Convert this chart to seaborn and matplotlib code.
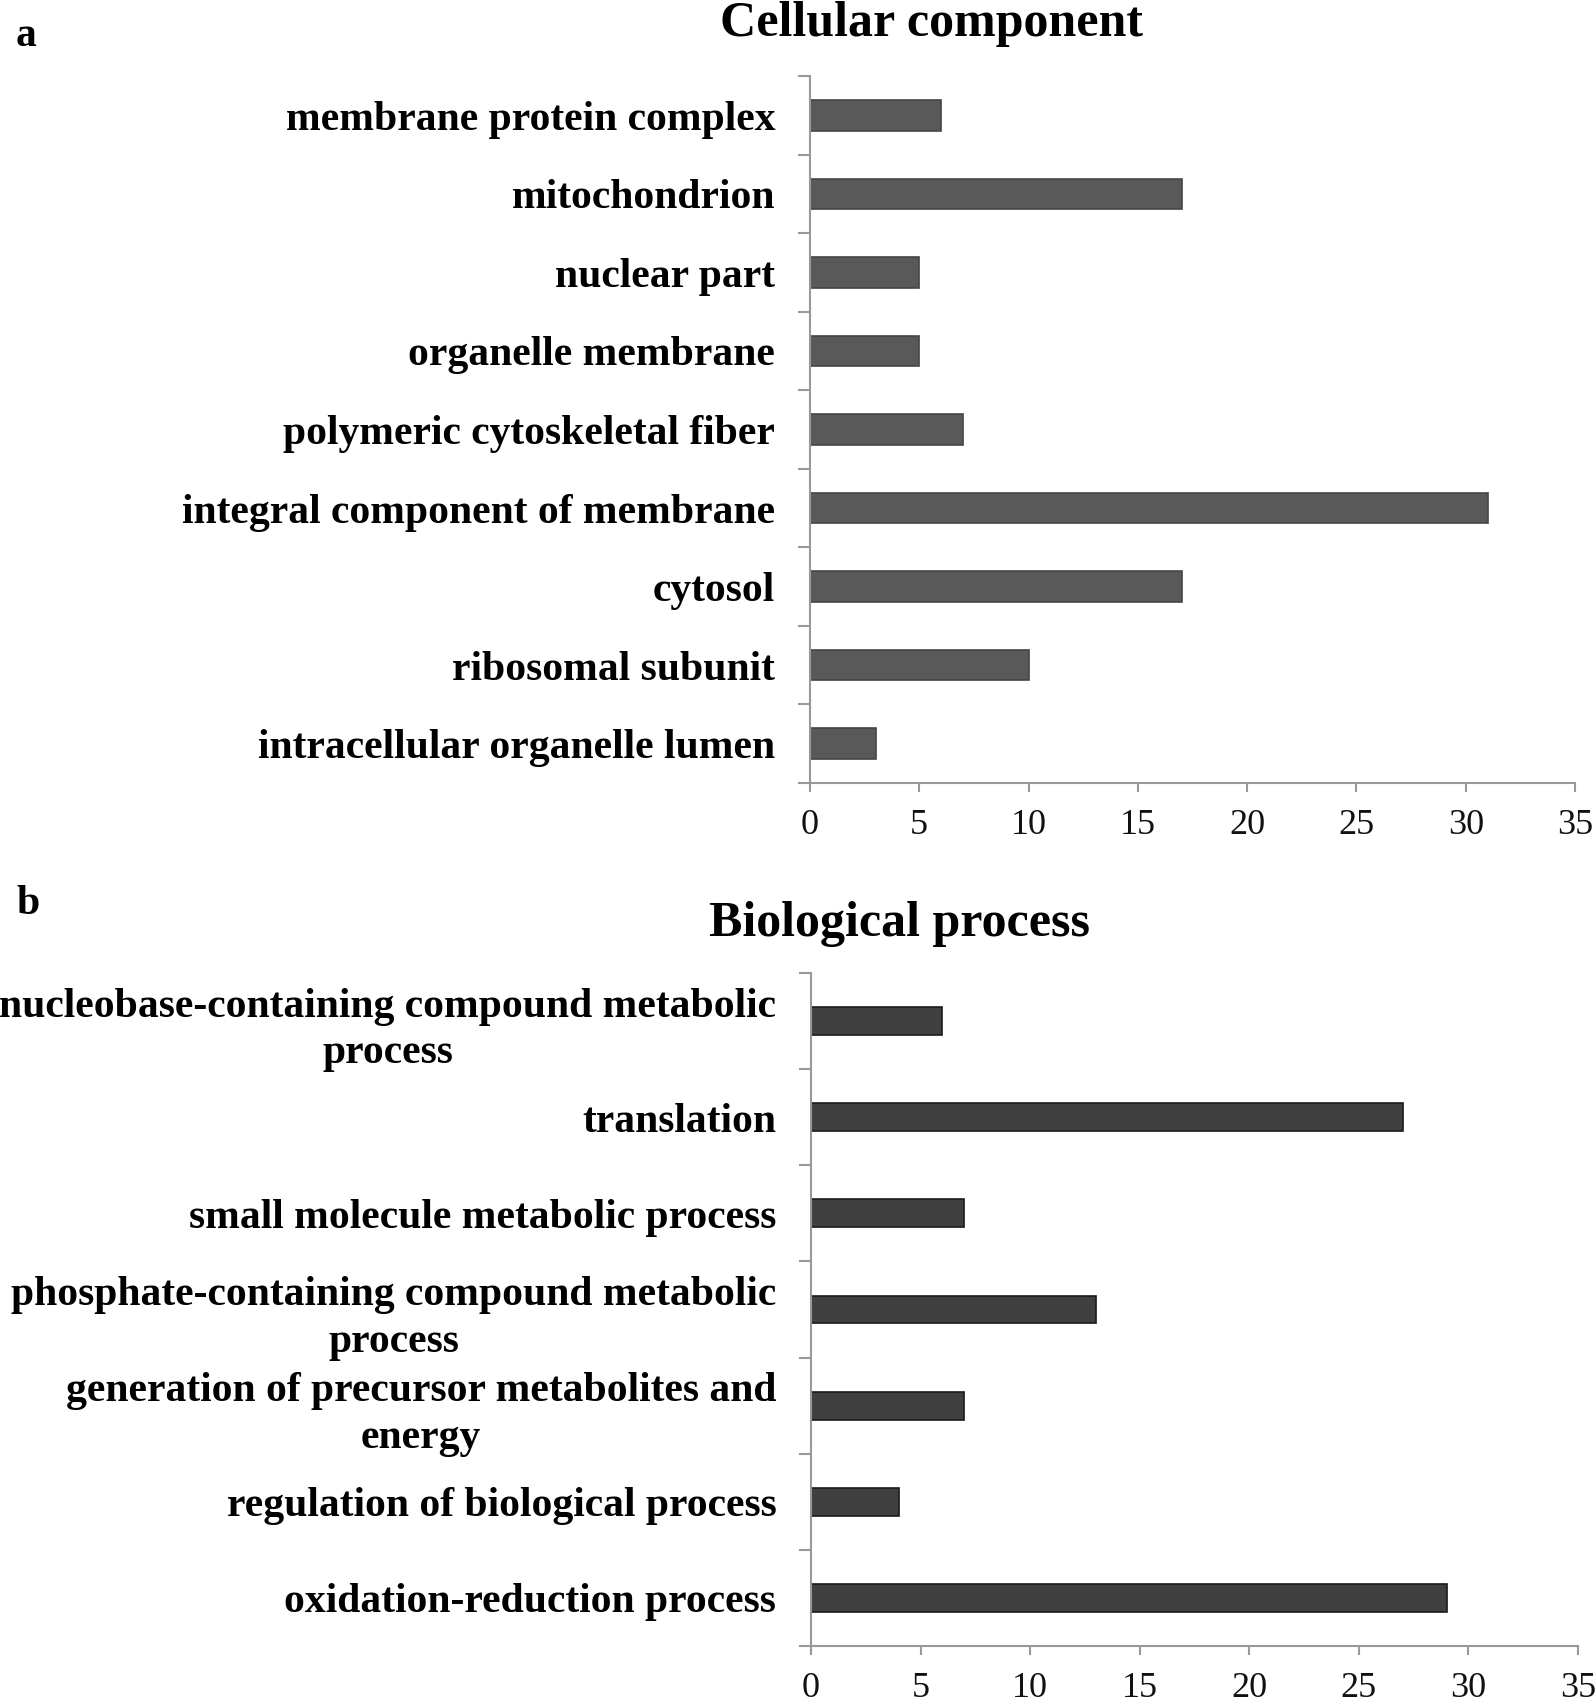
import numpy as np
import pandas as pd
import matplotlib
matplotlib.use("Agg")
import matplotlib.pyplot as plt
import seaborn as sns

# panel a: cellular component
cc_terms = [
    "membrane protein complex",
    "mitochondrion",
    "nuclear part",
    "organelle membrane",
    "polymeric cytoskeletal fiber",
    "integral component of membrane",
    "cytosol",
    "ribosomal subunit",
    "intracellular organelle lumen",
]
cc_counts = [6, 17, 5, 5, 7, 31, 17, 10, 3]

# panel b: biological process
bp_terms = [
    "nucleobase-containing compound metabolic\nprocess",
    "translation",
    "small molecule metabolic process",
    "phosphate-containing compound metabolic\nprocess",
    "generation of precursor metabolites and\nenergy",
    "regulation of biological process",
    "oxidation-reduction process",
]
bp_counts = [6, 27, 7, 13, 7, 4, 29]

x_ticks = [0, 5, 10, 15, 20, 25, 30, 35]

sns.set_theme(style="white")
plt.rcParams["font.family"] = ["Liberation Serif", "DejaVu Serif"]
plt.rcParams["text.color"] = "black"

W, H = 1595, 1704
fig = plt.figure(figsize=(W / 100, H / 100), dpi=100)


def draw_panel(ax, terms, counts, bar_color, edge_color, bar_width):
    df = pd.DataFrame({"term": terms, "count": counts})
    sns.barplot(data=df, x="count", y="term", orient="h", color=bar_color,
                width=bar_width, edgecolor=edge_color, linewidth=1.2,
                saturation=1, ax=ax)
    n = len(terms)
    ax.set_xlim(0, 35)
    ax.set_ylim(n - 0.5, -0.5)
    ax.set_xticks(x_ticks)
    ax.set_xticklabels([str(t) for t in x_ticks], fontsize=26, color="#111111")
    ax.set_yticks(np.arange(n))
    ax.set_yticklabels(terms, fontsize=30, fontweight="bold", color="black")
    for lbl in ax.get_yticklabels():
        lbl.set_multialignment("center")
        lbl.set_linespacing(1.3)
    ax.set_yticks(np.arange(n + 1) - 0.5, minor=True)
    ax.tick_params(axis="y", which="major", length=0, pad=25)
    ax.tick_params(axis="y", which="minor", length=8.5, width=1.5,
                   color="#999999", direction="out", left=True)
    ax.tick_params(axis="x", which="major", length=6.5, width=1.5,
                   color="#999999", direction="out", bottom=True, pad=12)
    ax.set_xlabel("")
    ax.set_ylabel("")
    for side in ["top", "right"]:
        ax.spines[side].set_visible(False)
    for side in ["left", "bottom"]:
        ax.spines[side].set_color("#999999")
        ax.spines[side].set_linewidth(1.5)


ax_a = fig.add_axes([810 / W, 1 - 783 / H, 765 / W, 707 / H])
draw_panel(ax_a, cc_terms, cc_counts, "#595959", "#454545", 0.39)

ax_b = fig.add_axes([811 / W, 1 - 1646 / H, 767 / W, 673 / H])
draw_panel(ax_b, bp_terms, bp_counts, "#404040", "#1a1a1a", 0.29)

fig.text(932 / W, 1 - 24 / H, "Cellular component", fontsize=36,
         fontweight="bold", ha="center", va="center", color="black")
fig.text(900 / W, 1 - 924 / H, "Biological process", fontsize=36,
         fontweight="bold", ha="center", va="center", color="black")
fig.text(16 / W, 1 - 36 / H, "a", fontsize=30, fontweight="bold",
         ha="left", va="center", color="black")
fig.text(16 / W, 1 - 904 / H, "b", fontsize=30, fontweight="bold",
         ha="left", va="center", color="black")

fig.savefig("out.png", dpi=100)
